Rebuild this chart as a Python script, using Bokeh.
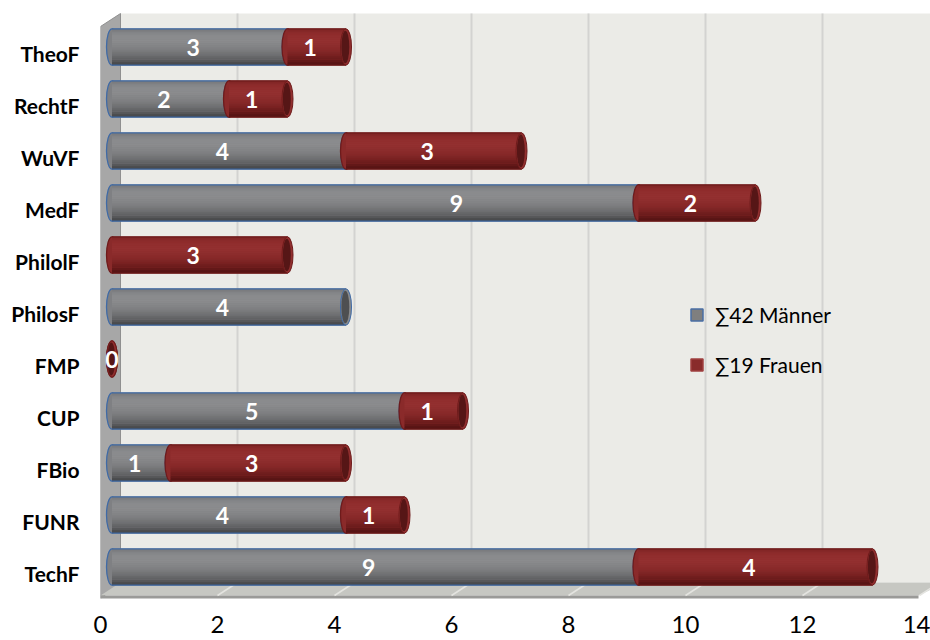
from bokeh.plotting import figure
from bokeh.models import (Range1d, LinearAxis, FixedTicker, Legend, LegendItem,
                          ColumnDataSource)
from bokeh.core.properties import value
from bokeh.embed import file_html
from bokeh.resources import INLINE

# ---------------- data ----------------
categories = ["TheoF", "RechtF", "WuVF", "MedF", "PhilolF", "PhilosF",
              "FMP", "CUP", "FBio", "FUNR", "TechF"]
maenner = [3, 2, 4, 9, 0, 4, 0, 5, 1, 4, 9]
frauen = [1, 1, 3, 2, 3, 0, 0, 1, 3, 1, 4]
series_labels = ["\u221142 M\u00e4nner", "\u221119 Frauen"]
x_ticks = [0, 2, 4, 6, 8, 10, 12, 14]
# data label that was dragged away from the segment centre in the original
moved_labels = {(0, "MedF"): 6.0}

# ---------------- geometry / style ----------------
W, H = 930, 640
FRAME_L, FRAME_R, FRAME_T, FRAME_B = 100, 930, 0, 598
XU = 58.5            # px per unit
BAR_X0 = 111.5       # px of value 0 on the bars
FRONT_X0 = 100       # px of value 0 on front (axis labels)
WALL_X0 = 120        # px of value 0 on back wall
YU = 52.0            # px per row
TOP_ROW_PX = 46.5
LABEL_DROP = 6.5     # category labels sit a bit lower than bar centres
VALUE_LABEL_DX = -6.5  # value labels sit on the front plane
N = len(categories)


def dx(px):
    return (px - BAR_X0) / XU


def dy(py):
    return (N - 1) - (py - TOP_ROW_PX) / YU


def hex2rgb(h):
    h = h.lstrip("#")
    return [int(h[i:i + 2], 16) for i in (0, 2, 4)]


def gradient(stops, n):
    out = []
    for k in range(n):
        t = (k + 0.5) / n
        for (t0, c0), (t1, c1) in zip(stops[:-1], stops[1:]):
            if t0 <= t <= t1:
                f = (t - t0) / (t1 - t0)
                a, b = hex2rgb(c0), hex2rgb(c1)
                out.append("#%02x%02x%02x" % tuple(round(a[j] + (b[j] - a[j]) * f) for j in range(3)))
                break
    return out


FONT = "Lato"

y0, y1 = dy(FRAME_B), dy(FRAME_T)
p = figure(width=W, height=H, output_backend="svg", toolbar_location=None,
           x_range=Range1d(dx(FRAME_L), dx(FRAME_R)),
           y_range=Range1d(y0, y1),
           x_axis_location=None, y_axis_location=None,
           min_border_left=FRAME_L, min_border_right=W - FRAME_R,
           min_border_top=FRAME_T, min_border_bottom=H - FRAME_B)
p.outline_line_color = None
p.background_fill_color = "white"
p.border_fill_color = "white"
p.xgrid.visible = False
p.ygrid.visible = False

# front axis (tick labels)
p.extra_x_ranges = {"front": Range1d((FRAME_L - FRONT_X0) / XU, (FRAME_R - FRONT_X0) / XU)}
xax = LinearAxis(x_range_name="front", ticker=FixedTicker(ticks=x_ticks))
xax.axis_line_color = None
xax.major_tick_line_color = None
xax.minor_tick_line_color = None
xax.major_label_text_font = FONT
xax.major_label_text_font_size = "24px"
xax.major_label_text_color = "#000000"
xax.major_label_standoff = 11
p.add_layout(xax, "below")

ypos = [N - 1 - i for i in range(N)]
p.extra_y_ranges = {"labels": Range1d(y0 + LABEL_DROP / YU, y1 + LABEL_DROP / YU)}
yax = LinearAxis(y_range_name="labels", ticker=FixedTicker(ticks=ypos))
yax.major_label_overrides = {y: c for y, c in zip(ypos, categories)}
yax.axis_line_color = None
yax.major_tick_line_color = None
yax.minor_tick_line_color = None
yax.major_label_text_font = FONT
yax.major_label_text_font_style = "bold"
yax.major_label_text_font_size = "21px"
yax.major_label_text_color = "#000000"
yax.major_label_standoff = 15
p.add_layout(yax, "left")

# ---------------- 3D walls ----------------
p.quad(left=dx(WALL_X0), right=dx(FRAME_R + 10), top=dy(13), bottom=dy(582),
       fill_color="#ebebe7", line_color=None)
wall_off = (WALL_X0 - BAR_X0) / XU
front_off = (FRONT_X0 - BAR_X0) / XU
g = [t for t in x_ticks[1:] if wall_off + t < dx(FRAME_R)]
p.segment(x0=[t + wall_off for t in g], x1=[t + wall_off for t in g],
          y0=dy(13), y1=dy(582), line_color="#d3d3d1", line_width=2)
p.patch(x=[dx(100), dx(120), dx(120), dx(100)],
        y=[dy(26), dy(13), dy(583), dy(598)],
        fill_color="#a7a7a7", line_color="#8f8f8f", line_width=1)
p.patch(x=[dx(100), dx(120), dx(945), dx(918)],
        y=[dy(595), dy(582), dy(582), dy(595)],
        fill_color="#c6c7c2", line_color=None)
p.quad(left=dx(100), right=dx(918), top=dy(595), bottom=dy(598.5),
       fill_color="#9a9a98", line_color=None)
fl = x_ticks[1:]
p.segment(x0=[t + front_off for t in fl], x1=[t + wall_off for t in fl],
          y0=dy(595), y1=dy(582), line_color="#e4e4e0", line_width=1.5)

# ---------------- cylinders ----------------
BH = 0.7
RX = 5.5 / XU
NB = 20

styles = [
    dict(base="#7f8083", line="#3f6aa6",
         stops=[(0, "#737477"), (0.15, "#898a8d"), (0.35, "#8b8c8e"),
                (0.6, "#7b7c7e"), (0.82, "#626365"), (1.0, "#3d3e40")],
         rim="#8a8b8d", inner="#4e4f51", legend_fill="#7f7f7f", legend_line="#4a6fa5"),
    dict(base="#8a2a2a", line="#6e1b1b",
         stops=[(0, "#7c2323"), (0.15, "#902d2d"), (0.35, "#933030"),
                (0.6, "#862828"), (0.82, "#6d1c1c"), (1.0, "#4c1010")],
         rim="#922f2f", inner="#561616", legend_fill="#892b2b", legend_line="#a04040"),
]

series = [maenner, frauen]
totals = [m + f for m, f in zip(maenner, frauen)]
lefts = [[0] * N, maenner]
legend_items = []

for si, (vals, st) in enumerate(zip(series, styles)):
    last = si == len(series) - 1
    idx = [i for i in range(N) if vals[i] > 0 or (last and totals[i] == 0)]
    L = [lefts[si][i] for i in idx]
    R = [lefts[si][i] + vals[i] for i in idx]
    Y = [ypos[i] for i in idx]
    src = ColumnDataSource(dict(l=L, r=R, y=Y))
    p.ellipse(x="l", y="y", width=2 * RX, height=BH, source=src,
              fill_color=st["base"], line_color=st["line"], line_width=1.3)
    p.hbar(y="y", left="l", right="r", height=BH, source=src,
           fill_color=st["base"], line_color=None)
    for b, col in enumerate(gradient(st["stops"], NB)):
        off = BH / 2 - (b + 0.5) * BH / NB
        p.hbar(y=[y + off for y in Y], left=L, right=R, height=BH / NB + 0.004,
               fill_color=col, line_color=None)
    p.segment(x0=L, x1=R, y0=[y + BH / 2 for y in Y], y1=[y + BH / 2 for y in Y],
              line_color=st["line"], line_width=1.3)
    p.segment(x0=L, x1=R, y0=[y - BH / 2 for y in Y], y1=[y - BH / 2 for y in Y],
              line_color=st["line"], line_width=1.3)
    p.ellipse(x="r", y="y", width=2 * RX, height=BH, source=src,
              fill_color=st["rim"], line_color=st["line"], line_width=1)
    p.ellipse(x=[r - RX * 0.12 for r in R], y=Y, width=2 * RX * 0.72, height=BH * 0.9,
              fill_color=st["inner"], line_color=None)
    lsrc = ColumnDataSource(dict(
        x=[moved_labels.get((si, categories[i]), lefts[si][i] + vals[i] / 2) for i in idx],
        y=Y,
        t=[str(vals[i]) for i in idx],
        xo=[VALUE_LABEL_DX if vals[i] > 0 else 0 for i in idx]))
    p.text(x="x", y="y", text="t", x_offset="xo", source=lsrc,
           text_align="center", text_baseline="middle",
           text_font=value(FONT), text_font_style="bold",
           text_font_size="23px", text_color="white")
    dummy = p.hbar(y=[float("nan")], left=[0], right=[1], height=0.5,
                   fill_color=st["legend_fill"], line_color=st["legend_line"], line_width=1.5)
    legend_items.append(LegendItem(label=series_labels[si], renderers=[dummy]))

legend = Legend(items=legend_items, location=(589, 221))
legend.background_fill_alpha = 0
legend.border_line_color = None
legend.padding = 0
legend.margin = 0
legend.spacing = 25
legend.glyph_width = 15
legend.glyph_height = 15
legend.label_standoff = 11
legend.label_text_font = FONT
legend.label_text_font_size = "21px"
legend.label_text_color = "#000000"
legend.label_text_baseline = "middle"
p.add_layout(legend, "center")

open("out.html", "w").write(file_html(p, INLINE))
